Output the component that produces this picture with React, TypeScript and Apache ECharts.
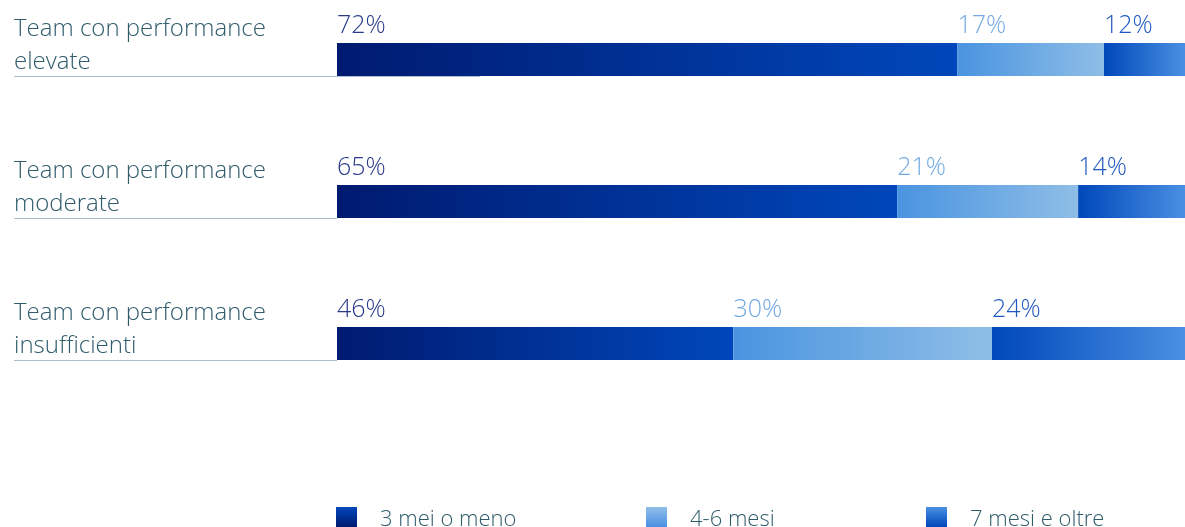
import React, { useEffect, useRef } from "react";
import * as echarts from "echarts";

const categories = [
  "Team con performance\nelevate",
  "Team con performance\nmoderate",
  "Team con performance\ninsufficienti",
];
const seriesNames = ["3 mei o meno", "4-6 mesi", "7 mesi e oltre"];
const short = [72, 65, 46];
const mid = [17, 21, 30];
const long = [12, 14, 24];

const TEXT = "#2f5b6b";
const FONT = "'Open Sans', Lato, sans-serif";

const hGrad = (a: string, b: string) =>
  new echarts.graphic.LinearGradient(0, 0, 1, 0, [
    { offset: 0, color: a },
    { offset: 1, color: b },
  ]);
const vGrad = (a: string, b: string) =>
  new echarts.graphic.LinearGradient(0, 0, 0, 1, [
    { offset: 0, color: a },
    { offset: 1, color: b },
  ]);

export default function App() {
  const ref = useRef<HTMLDivElement>(null);
  useEffect(() => {
    if (!ref.current) return;
    const chart = echarts.init(ref.current, null, { renderer: "svg" });
    const segColors = [
      hGrad("#001a70", "#0047bb"),
      hGrad("#4a94e0", "#8fbee7"),
      hGrad("#0047bb", "#4a90e2"),
    ];
    const labelColors = ["#2a3a8c", "#72a9e3", "#1f58c2"];
    const legendIcons = [
      vGrad("#0047bb", "#001a70"),
      vGrad("#92bfea", "#4a90e2"),
      vGrad("#4a90e2", "#0047bb"),
    ];
    const legendLeft = [336, 646, 926];
    const values = [short, mid, long];
    const mkSeries = (i: number) => ({
      type: "bar",
      name: seriesNames[i],
      stack: "t",
      barWidth: 33,
      data: values[i],
      itemStyle: { color: segColors[i] },
      label: {
        show: true,
        position: [0, -8],
        align: "left",
        verticalAlign: "bottom",
        formatter: "{c}%",
        color: labelColors[i],
        fontSize: 25,
        fontWeight: 300,
        fontFamily: FONT,
      },
    });
    chart.setOption({
      animation: false,
      grid: { left: 337, right: 0, top: 59.5, height: 284, outerBoundsMode: "none", containLabel: false },
      xAxis: { type: "value", min: 0, max: 98.4, show: false },
      yAxis: {
        type: "category",
        inverse: true,
        boundaryGap: false,
        data: categories,
        axisLine: { show: false },
        axisTick: { show: false },
        axisLabel: {
          align: "left",
          margin: 323,
          verticalAlign: "middle",
          formatter: (v: string) => v + "\n ",
          color: TEXT,
          fontSize: 24,
          lineHeight: 33,
          fontWeight: 300,
          fontFamily: FONT,
        },
      },
      legend: legendLeft.map((l, i) => ({
        left: l,
        top: 506,
        padding: 0,
        itemWidth: 21,
        itemHeight: 20,
        itemGap: 0,
        icon: "rect",
        selectedMode: false,
        data: [{ name: seriesNames[i], itemStyle: { color: legendIcons[i] } }],
        textStyle: {
          color: TEXT,
          fontSize: 22,
          fontWeight: 300,
          fontFamily: FONT,
          padding: [0, 0, 0, 18],
        },
      })),
      series: [0, 1, 2].map(mkSeries),
    });
    const lineEnds = [480, 337, 337];
    const graphics = categories.map((_, i) => {
      const y = Math.round(chart.convertToPixel({ yAxisIndex: 0 }, i) + 16.5) + 0.5;
      return {
        type: "line",
        shape: { x1: 14, y1: y, x2: lineEnds[i], y2: y },
        style: { stroke: "#a9bccb", lineWidth: 1 },
        z: 10,
      };
    });
    chart.setOption({ graphic: graphics });
    return () => chart.dispose();
  }, []);
  return (
    <div
      ref={ref}
      style={{ position: "fixed", left: 0, top: 0, width: 1185, height: 527 }}
    />
  );
}
